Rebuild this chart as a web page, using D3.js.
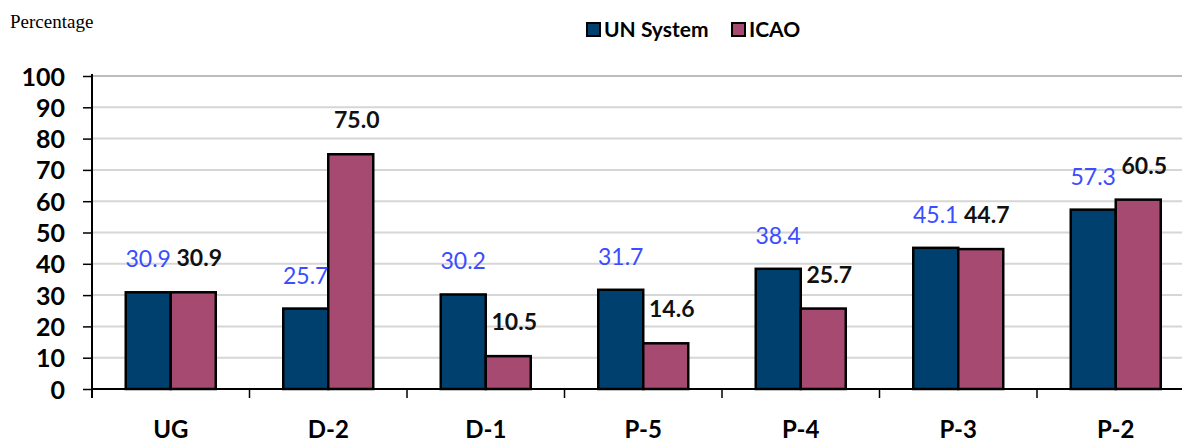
<!DOCTYPE html>
<html><head><meta charset="utf-8">
<script src="https://cdn.jsdelivr.net/npm/d3@7"></script>
<style>body{margin:0;background:#fff;overflow:hidden}</style>
</head><body>
<svg id="c" width="1182" height="444"></svg>
<script>
const categories = ["UG","D-2","D-1","P-5","P-4","P-3","P-2"];
const unSystem = [30.9,25.7,30.2,31.7,38.4,45.1,57.3];
const icao = [30.9,75.0,10.5,14.6,25.7,44.7,60.5];
const seriesNames = ["UN System","ICAO"];
const yTicks = [0,10,20,30,40,50,60,70,80,90,100];

const colors = ["#00406f","#a64a72"];
const svg = d3.select("#c");
const x0 = 92, x1 = 92 + 157.5*7;
const x = d3.scaleBand().domain(categories).range([x0,x1]).paddingInner(0).paddingOuter(0);
const y = d3.scaleLinear().domain([0,100]).range([389,76]);
const font = "Lato, 'Open Sans', sans-serif";

// gridlines
svg.append("g").selectAll("line").data(yTicks.filter(d=>d>0)).join("line")
  .attr("x1",x0).attr("x2",1182).attr("y1",d=>y(d)).attr("y2",d=>y(d))
  .attr("stroke",d=>d===100?"#bdbdbd":"#d6d6d6").attr("stroke-width",2);

// y axis
const ya = svg.append("g").attr("transform",`translate(${x0},0)`)
  .call(d3.axisLeft(y).tickValues(yTicks).tickSize(9).tickPadding(18));
ya.select(".domain").remove();
ya.selectAll("line").attr("stroke","#000").attr("stroke-width",1.5);
ya.selectAll("text").attr("font-family",font).attr("font-weight","bold").attr("font-size",25).attr("fill","#000").attr("dy","0.36em");
svg.append("line").attr("x1",x0).attr("x2",x0).attr("y1",y(100)-2).attr("y2",398).attr("stroke","#000").attr("stroke-width",2);

// x axis
svg.append("line").attr("x1",x0).attr("x2",1182).attr("y1",y(0)).attr("y2",y(0)).attr("stroke","#000").attr("stroke-width",2);
svg.append("g").selectAll("line").data(categories.slice(1)).join("line")
  .attr("x1",d=>x(d)).attr("x2",d=>x(d)).attr("y1",y(0)).attr("y2",398).attr("stroke","#000").attr("stroke-width",1.5);
svg.append("g").selectAll("text").data(categories).join("text")
  .attr("x",d=>x(d)+x.bandwidth()/2).attr("y",438).attr("text-anchor","middle")
  .attr("font-family",font).attr("font-weight","bold").attr("font-size",24).attr("fill","#000").text(d=>d);

// bars
const bw = 45;
const series = [unSystem, icao];
series.forEach((vals,si)=>{
  svg.append("g").selectAll("rect").data(categories).join("rect")
    .attr("x",(d)=>x(d)+x.bandwidth()/2 - bw + si*bw)
    .attr("y",(d,i)=>y(vals[i])).attr("width",bw).attr("height",(d,i)=>y(0)-y(vals[i]))
    .attr("fill",colors[si]).attr("stroke","#000").attr("stroke-width",2.5);
});
// labels
svg.append("g").selectAll("text").data(categories).join("text")
  .attr("x",d=>x(d)+x.bandwidth()/2 - bw/2)
  .attr("y",(d,i)=>y(unSystem[i])-25).attr("text-anchor","middle")
  .attr("font-family",font).attr("font-size",23).attr("fill","#3a4dff")
  .text((d,i)=>unSystem[i].toFixed(1));
svg.append("g").selectAll("text").data(categories).join("text")
  .attr("x",d=>x(d)+x.bandwidth()/2 + bw/2 + 6)
  .attr("y",(d,i)=>y(icao[i])-26).attr("text-anchor","middle")
  .attr("font-family",font).attr("font-weight","bold").attr("font-size",23).attr("fill","#111")
  .text((d,i)=>icao[i].toFixed(1));

// title
svg.append("text").attr("x",10).attr("y",28).attr("font-family","'Liberation Serif','Times New Roman',serif")
  .attr("font-size",19).attr("fill","#000").text("Percentage");

// legend
const lg = svg.append("g");
const legX = [587,732];
seriesNames.forEach((n,i)=>{
  lg.append("rect").attr("x",legX[i]).attr("y",23).attr("width",13).attr("height",13)
    .attr("fill",colors[i]).attr("stroke","#000").attr("stroke-width",2);
  lg.append("text").attr("x",legX[i]+17).attr("y",37).attr("font-family",font).attr("font-weight","bold")
    .attr("font-size",21).attr("fill","#000").text(n);
});
</script>
</body></html>
